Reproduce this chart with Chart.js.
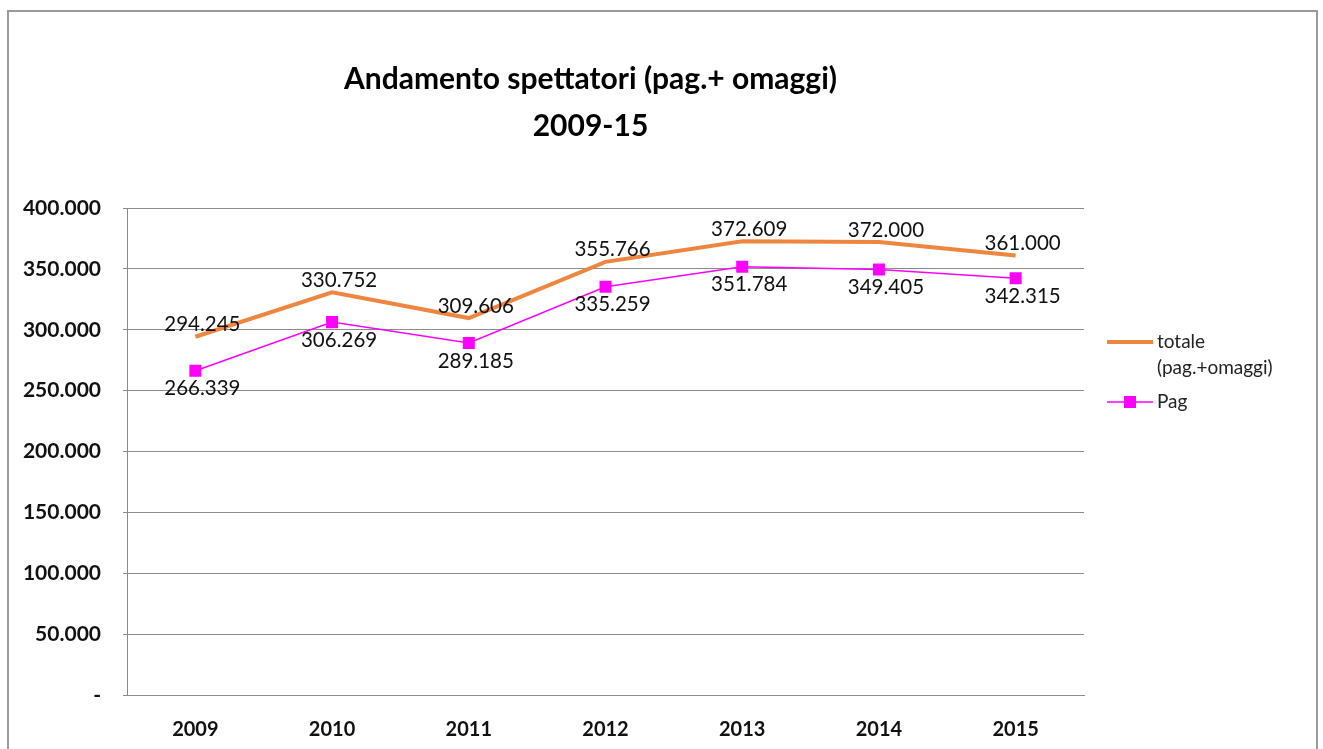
<!DOCTYPE html>
<html>
<head>
<meta charset="utf-8">
<script src="https://cdn.jsdelivr.net/npm/chart.js@4"></script>
<style>
  html, body { margin: 0; padding: 0; background: #fff; overflow: hidden; }
  #frame { position: absolute; left: 7px; top: 10px; width: 1307px; height: 760px; border: 2px solid #9a9a9a; }
  #wrap { position: absolute; left: 0; top: 0; width: 1323px; height: 749px; }
</style>
</head>
<body>
<div id="frame"></div>
<div id="wrap"><canvas id="chartSpettatori"></canvas></div>
<script>
const years = ['2009', '2010', '2011', '2012', '2013', '2014', '2015'];
const totale = [294245, 330752, 309606, 355766, 372609, 372000, 361000];
const pag = [266339, 306269, 289185, 335259, 351784, 349405, 342315];
const titleLines = ['Andamento spettatori (pag.+ omaggi)', '2009-15'];
const legendTotale = ['totale', '(pag.+omaggi)'];
const legendPag = ['Pag'];
const yMax = 400000;
const yStep = 50000;

const FONT = 'Lato, "Open Sans", sans-serif';

function fmt(n) {
    if (n === 0) return '-';
    return String(n).replace(/\B(?=(\d{3})+(?!\d))/g, '.');
}

// data labels over / under each point
const valueLabels = {
    id: 'valueLabels',
    afterDatasetsDraw(chart) {
        const ctx = chart.ctx;
        ctx.save();
        ctx.font = '20.5px ' + FONT;
        ctx.fillStyle = '#111';
        ctx.textAlign = 'center';
        ctx.textBaseline = 'middle';
        chart.data.datasets.forEach((ds, i) => {
            const meta = chart.getDatasetMeta(i);
            meta.data.forEach((pt, j) => {
                ctx.fillText(fmt(ds.data[j]), pt.x + 7, pt.y + ds.labelDy);
            });
        });
        ctx.restore();
    }
};

// title + legend drawn around the chart area
const decorations = {
    id: 'decorations',
    afterDraw(chart) {
        const ctx = chart.ctx;
        const a = chart.chartArea;
        ctx.save();

        ctx.fillStyle = '#000';
        ctx.textAlign = 'center';
        ctx.textBaseline = 'middle';
        ctx.font = 'bold 30px ' + FONT;
        const cx = (a.left + a.right) / 2 - 15;
        titleLines.forEach((t, k) => ctx.fillText(t, cx, 79 + k * 47));

        const x0 = a.right + 23;
        const x1 = a.right + 69;
        const tx = a.right + 73;
        ctx.font = '19px ' + FONT;
        ctx.textAlign = 'left';

        const dsT = chart.data.datasets[0];
        let y = a.top + 134;
        ctx.strokeStyle = dsT.borderColor;
        ctx.lineWidth = dsT.borderWidth;
        ctx.beginPath(); ctx.moveTo(x0, y); ctx.lineTo(x1, y); ctx.stroke();
        ctx.fillStyle = '#222';
        legendTotale.forEach((t, k) => ctx.fillText(t, tx, y + k * 26));

        const dsP = chart.data.datasets[1];
        y = a.top + 194;
        ctx.strokeStyle = dsP.borderColor;
        ctx.lineWidth = dsP.borderWidth;
        ctx.beginPath(); ctx.moveTo(x0, y); ctx.lineTo(x1, y); ctx.stroke();
        ctx.fillStyle = dsP.pointBackgroundColor;
        ctx.fillRect((x0 + x1) / 2 - 6, y - 6, 12, 12);
        ctx.fillStyle = '#222';
        legendPag.forEach((t, k) => ctx.fillText(t, tx, y + k * 26));

        ctx.restore();
    }
};

new Chart(document.getElementById('chartSpettatori'), {
    type: 'line',
    data: {
        labels: years,
        datasets: [{
            label: 'totale (pag.+omaggi)',
            data: totale,
            borderColor: '#EE8640',
            borderWidth: 4,
            pointRadius: 0,
            tension: 0,
            labelDy: -12
        }, {
            label: 'Pag',
            data: pag,
            borderColor: '#FF00FF',
            borderWidth: 1.5,
            pointStyle: 'rect',
            pointRadius: 8.5,
            pointBackgroundColor: '#FF00FF',
            pointBorderColor: '#FF00FF',
            pointBorderWidth: 0,
            tension: 0,
            labelDy: 18
        }]
    },
    options: {
        responsive: true,
        maintainAspectRatio: false,
        animation: false,
        layout: { padding: { left: 10, right: 239, top: 208, bottom: 0 } },
        plugins: {
            legend: { display: false },
            title: { display: false },
            tooltip: { enabled: false }
        },
        scales: {
            x: {
                offset: true,
                grid: { display: false },
                border: { display: true, color: '#8c8c8c' },
                ticks: { color: '#111', font: { family: FONT, size: 20, weight: 'bold' }, padding: 15 },
                afterFit(s) { s.height = 54; }
            },
            y: {
                min: 0,
                max: yMax,
                grid: { color: '#8c8c8c', lineWidth: 1, tickLength: 4 },
                border: { display: true, color: '#8c8c8c' },
                ticks: {
                    stepSize: yStep,
                    color: '#111',
                    padding: 22,
                    font: { family: FONT, size: 21, weight: 'bold' },
                    callback: v => fmt(v)
                },
                afterFit(s) { s.width = 117; }
            }
        }
    },
    plugins: [valueLabels, decorations]
});
</script>
</body>
</html>
